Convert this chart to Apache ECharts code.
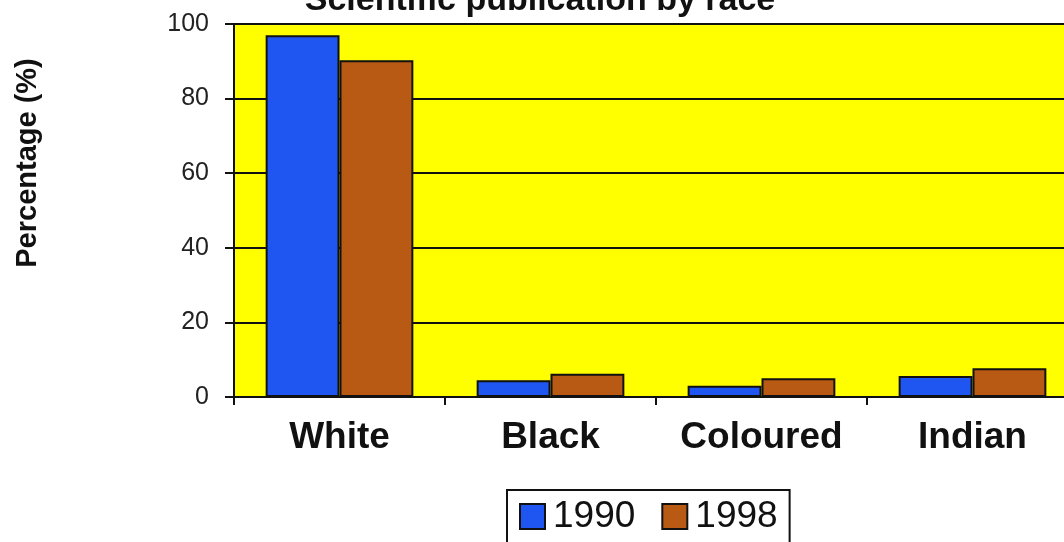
<!DOCTYPE html>
<html><head><meta charset="utf-8">
<script src="https://cdn.jsdelivr.net/npm/echarts@6/dist/echarts.min.js"></script>
<style>html,body{margin:0;padding:0;background:#fff}#c{width:1064px;height:542px}</style>
</head><body><div id="c"></div>
<script>
const categories = ['White', 'Black', 'Coloured', 'Indian'];
const s1990 = [97, 4.5, 3, 5.6];
const s1998 = [90.3, 6.2, 5, 7.7];
const yTicks = [0, 20, 40, 60, 80, 100];

const chart = echarts.init(document.getElementById('c'));
chart.setOption({
  animation: false,
  backgroundColor: '#fff',
  title: {
    text: 'Scientific publication by race',
    left: 535, textAlign: 'center', top: -21,
    textStyle: {fontFamily: 'Liberation Sans', fontWeight: 'bold', fontSize: 34, color: '#111'}
  },
  graphic: [{
    type: 'text', x: 28, y: 163, rotation: Math.PI / 2,
    style: {text: 'Percentage (%)', textAlign: 'center', textVerticalAlign: 'middle',
      font: 'bold 29px "Liberation Sans"', fill: '#111'}
  }],
  legend: {
    top: 490, left: 507,
    icon: 'rect',
    itemWidth: 25, itemHeight: 25, itemGap: 26,
    borderColor: '#111', borderWidth: 2, borderRadius: 0, padding: [8, 12, 10, 12],
    textStyle: {fontFamily: 'Liberation Sans', fontSize: 37, color: '#111', padding: [0, 0, 0, 3]},
    data: ['1990', '1998']
  },
  grid: {left: 234, right: -14, top: 24, bottom: 145, outerBoundsMode: 'none',
    show: true, backgroundColor: '#ffff00', borderWidth: 0},
  xAxis: {
    type: 'category', data: categories,
    axisLine: {lineStyle: {color: '#111', width: 2}},
    axisTick: {show: true, length: 8, lineStyle: {color: '#111', width: 2}},
    axisLabel: {interval: 0, fontFamily: 'Liberation Sans', fontWeight: 'bold', fontSize: 37, color: '#111', margin: 22}
  },
  yAxis: {
    type: 'value', min: 0, max: 100, interval: 20,
    axisLine: {show: true, lineStyle: {color: '#111', width: 2}},
    axisTick: {show: true, length: 9, lineStyle: {color: '#111', width: 2}},
    splitLine: {lineStyle: {color: '#111', width: 2}},
    axisLabel: {fontFamily: 'Liberation Sans', fontSize: 25, color: '#222', margin: 25,
      formatter: v => yTicks.includes(v) ? String(v) : ''}
  },
  series: [
    {name: '1990', type: 'bar', data: s1990, barGap: '0%', barCategoryGap: '30%',
     itemStyle: {color: '#1f55f0', borderColor: '#111', borderWidth: 2}},
    {name: '1998', type: 'bar', data: s1998,
     itemStyle: {color: '#b85a14', borderColor: '#111', borderWidth: 2}}
  ]
});
</script></body></html>
